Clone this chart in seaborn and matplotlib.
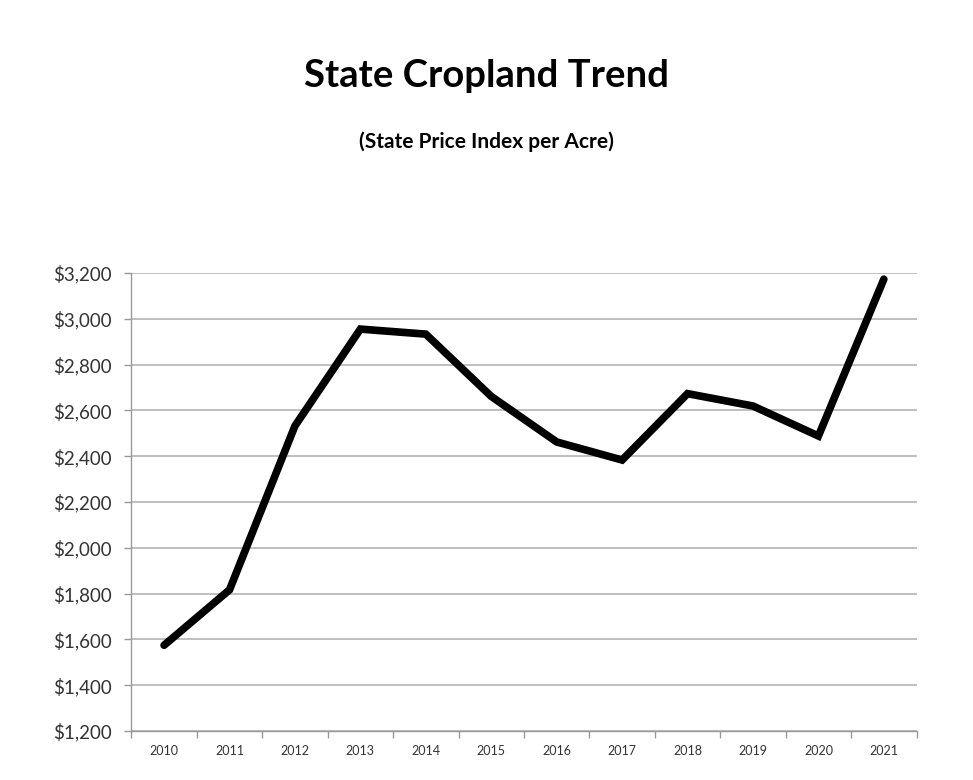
import pandas as pd
import seaborn as sns
import matplotlib.pyplot as plt
from matplotlib.ticker import FixedLocator, FuncFormatter

years = ['2010', '2011', '2012', '2013', '2014', '2015',
         '2016', '2017', '2018', '2019', '2020', '2021']
price_index = [1574, 1816, 2532, 2955, 2933, 2661,
               2462, 2383, 2673, 2619, 2488, 3173]

df = pd.DataFrame({'Year': years, 'Price': price_index})
df['pos'] = range(len(df))

sns.set_style('white')
plt.rcParams['font.family'] = ['Lato', 'DejaVu Sans']

fig = plt.figure(figsize=(9.73, 7.8), dpi=100)
ax = fig.add_axes([0.135, 0.063, 0.807, 0.587])

sns.lineplot(data=df, x='pos', y='Price', color='black', linewidth=5.5,
             solid_capstyle='round', solid_joinstyle='miter', ax=ax)

ax.set_ylim(1200, 3200)
ax.set_yticks(range(1200, 3201, 200))
ax.yaxis.set_major_formatter(FuncFormatter(lambda v, p: f'${v:,.0f}'))
ax.grid(axis='y', color='#b4b4b4', linewidth=1.2)
ax.set_axisbelow(True)

ax.set_xlim(-0.5, len(years) - 0.5)
ax.set_xticks(df['pos'])
ax.set_xticklabels(df['Year'], fontsize=9)
ax.xaxis.set_minor_locator(FixedLocator([i - 0.5 for i in range(len(years) + 1)]))
ax.tick_params(axis='x', which='major', length=0, pad=10, labelcolor='#333333')
ax.tick_params(axis='x', which='minor', length=5, width=1, color='#999999', direction='out', bottom=True)
ax.tick_params(axis='y', length=5, width=1, color='#999999', labelsize=13.5,
               labelcolor='#333333', left=True, pad=9)

sns.despine(ax=ax)
for side in ['left', 'bottom']:
    ax.spines[side].set_color('#999999')
    ax.spines[side].set_linewidth(1)

ax.set_xlabel('')
ax.set_ylabel('')

fig.text(0.5, 0.903, 'State Cropland Trend', ha='center', va='center',
         fontsize=27.5, fontweight='bold', color='black')
fig.text(0.5, 0.818, '(State Price Index per Acre)', ha='center', va='center',
         fontsize=15, fontweight='bold', color='black')

fig.savefig('out.png', dpi=100)
